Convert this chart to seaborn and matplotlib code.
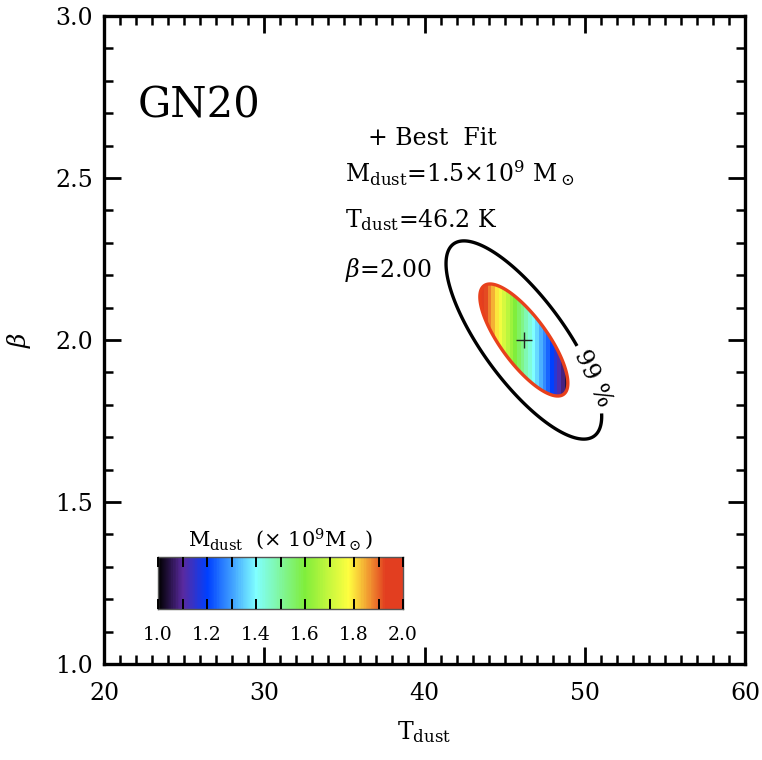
import numpy as np
import matplotlib
matplotlib.use("Agg")
import matplotlib.pyplot as plt
import seaborn as sns
from matplotlib.colors import LinearSegmentedColormap, Normalize
from matplotlib.ticker import MultipleLocator

# ---------------- data ----------------
source_name = "GN20"
best_tdust = 46.2          # K
best_beta = 2.00
best_mdust = 1.5           # 1e9 Msun
sigma_tdust = 1.81         # K
sigma_beta = 0.114
rho_tbeta = -0.77
level_inner = 2.30         # coloured region
level_outer = 7.2          # 99 % contour
contour_label = "99 %"
mdust_per_kelvin = -0.175  # dM/dT across the coloured region
x_ticks = [20, 30, 40, 50, 60]
y_ticks = [1.0, 1.5, 2.0, 2.5, 3.0]
cbar_ticks = [1.0, 1.2, 1.4, 1.6, 1.8, 2.0]
cbar_range = [1.0, 2.0]
cmap_stops = [0.0, 0.1, 0.2, 0.4, 0.6, 0.78, 0.87, 0.93, 1.0]
cmap_colors = ["#000000", "#5a2aa0", "#0040ff", "#80ffff", "#80ee3c",
               "#ffff40", "#f09030", "#e23e20", "#e23e20"]

# ---------------- style ----------------
sns.set_style("ticks")
plt.rcParams["font.family"] = ["DejaVu Serif", "DejaVu Sans"]
plt.rcParams["mathtext.fontset"] = "dejavuserif"
for k in ["text.color", "axes.labelcolor", "xtick.color", "ytick.color", "axes.edgecolor"]:
    plt.rcParams[k] = "black"
plt.rcParams["axes.axisbelow"] = False

fig = plt.figure(figsize=(7.62, 7.60), dpi=100)
ax = fig.add_axes([104 / 762, 1 - 664 / 760, 641 / 762, 648 / 760])

# ---------------- surfaces ----------------
tg = np.linspace(36, 56, 900)
bg = np.linspace(1.4, 2.6, 900)
T, B = np.meshgrid(tg, bg)
u = (T - best_tdust) / sigma_tdust
v = (B - best_beta) / sigma_beta
chi2 = (u**2 - 2 * rho_tbeta * u * v + v**2) / (1 - rho_tbeta**2)
mdust = best_mdust + mdust_per_kelvin * (T - best_tdust)
mdust_in = np.ma.masked_where(chi2 > level_inner, mdust)

cmap = LinearSegmentedColormap.from_list("idlrainbow", list(zip(cmap_stops, cmap_colors)))
norm = Normalize(vmin=cbar_range[0], vmax=cbar_range[1])

ax.contourf(T, B, mdust_in, levels=np.linspace(0.9, 2.1, 31), cmap=cmap, norm=norm, extend="both")
ax.contour(T, B, chi2, levels=[level_inner], colors="#e8401c", linewidths=2.4)
cs = ax.contour(T, B, chi2, levels=[level_outer], colors="black", linewidths=2.4)
ax.clabel(cs, fmt={level_outer: contour_label}, inline=True, inline_spacing=32,
          fontsize=17, manual=[(50.4, 1.88)])

sns.scatterplot(x=[best_tdust], y=[best_beta], marker="+", s=130, color="#222222",
                linewidth=1.0, ax=ax, legend=False, zorder=5)

# ---------------- axes ----------------
ax.set_xlim(20, 60)
ax.set_ylim(1.0, 3.0)
ax.set_xticks(x_ticks)
ax.set_yticks(y_ticks)
ax.set_xticklabels([f"{t:d}" for t in x_ticks])
ax.set_yticklabels([f"{t:.1f}" for t in y_ticks])
ax.xaxis.set_minor_locator(MultipleLocator(1))
ax.yaxis.set_minor_locator(MultipleLocator(0.1))
ax.tick_params(which="both", direction="in", top=True, right=True, color="black")
ax.tick_params(which="major", length=12, width=2.0, labelsize=17)
ax.tick_params(which="minor", length=6.5, width=1.8)
ax.tick_params(axis="x", which="major", pad=13)
ax.tick_params(axis="y", which="major", pad=8)
for s in ax.spines.values():
    s.set_linewidth(2.4)
    s.set_color("black")

ax.set_xlabel(r"$\mathrm{T_{dust}}$", fontsize=17)
ax.set_ylabel(r"$\beta$", fontsize=18)
ax.xaxis.set_label_coords(0.5, -0.085)
ax.yaxis.set_label_coords(-0.11, 0.5)

# ---------------- annotations ----------------
ax.text(0.053, 0.843, source_name, transform=ax.transAxes, fontsize=30, va="baseline", ha="left")
ax.text(0.412, 0.801, "+ Best  Fit", transform=ax.transAxes, fontsize=17, va="baseline")
ax.text(0.376, 0.744, r"$\mathrm{M_{dust}}$=" + f"{best_mdust:.1f}" + r"$\times$10$^9$ M$_\odot$",
        transform=ax.transAxes, fontsize=17, va="baseline")
ax.text(0.376, 0.674, r"$\mathrm{T_{dust}}$=" + f"{best_tdust:.1f} K",
        transform=ax.transAxes, fontsize=17, va="baseline")
ax.text(0.376, 0.597, r"$\beta$=" + f"{best_beta:.2f}",
        transform=ax.transAxes, fontsize=17, va="baseline")

# ---------------- colour bar (gradient strip) ----------------
cax = fig.add_axes([158 / 762, 1 - 609 / 760, 245 / 762, 52 / 760])
grad = np.linspace(cbar_range[0], cbar_range[1], 400).reshape(1, -1)
cax.imshow(grad, extent=[cbar_range[0], cbar_range[1], 0, 1], aspect="auto",
           cmap=cmap, norm=norm, interpolation="nearest", zorder=0)
cax.set_xlim(cbar_range)
cax.set_ylim(0, 1)
cax.set_yticks([])
cax.set_xticks(cbar_ticks)
cax.set_xticklabels([f"{t:.1f}" for t in cbar_ticks])
cax.xaxis.set_minor_locator(MultipleLocator(0.1))
cax.set_axisbelow(False)
cax.xaxis.set_zorder(5)
cax.xaxis.set_tick_params(which="both", direction="in", top=True, bottom=True,
                          length=7, width=1.4, color="black")
cax.xaxis.set_tick_params(which="major", labelsize=13.5, pad=12)
for s in cax.spines.values():
    s.set_linewidth(1.0)
    s.set_color("#555555")
cax.text(0.5, 1.1, r"$\mathrm{M_{dust}}$  ($\times$ 10$^9$M$_\odot$)", transform=cax.transAxes,
         ha="center", va="bottom", fontsize=15)

fig.savefig("out.png", dpi=100)
